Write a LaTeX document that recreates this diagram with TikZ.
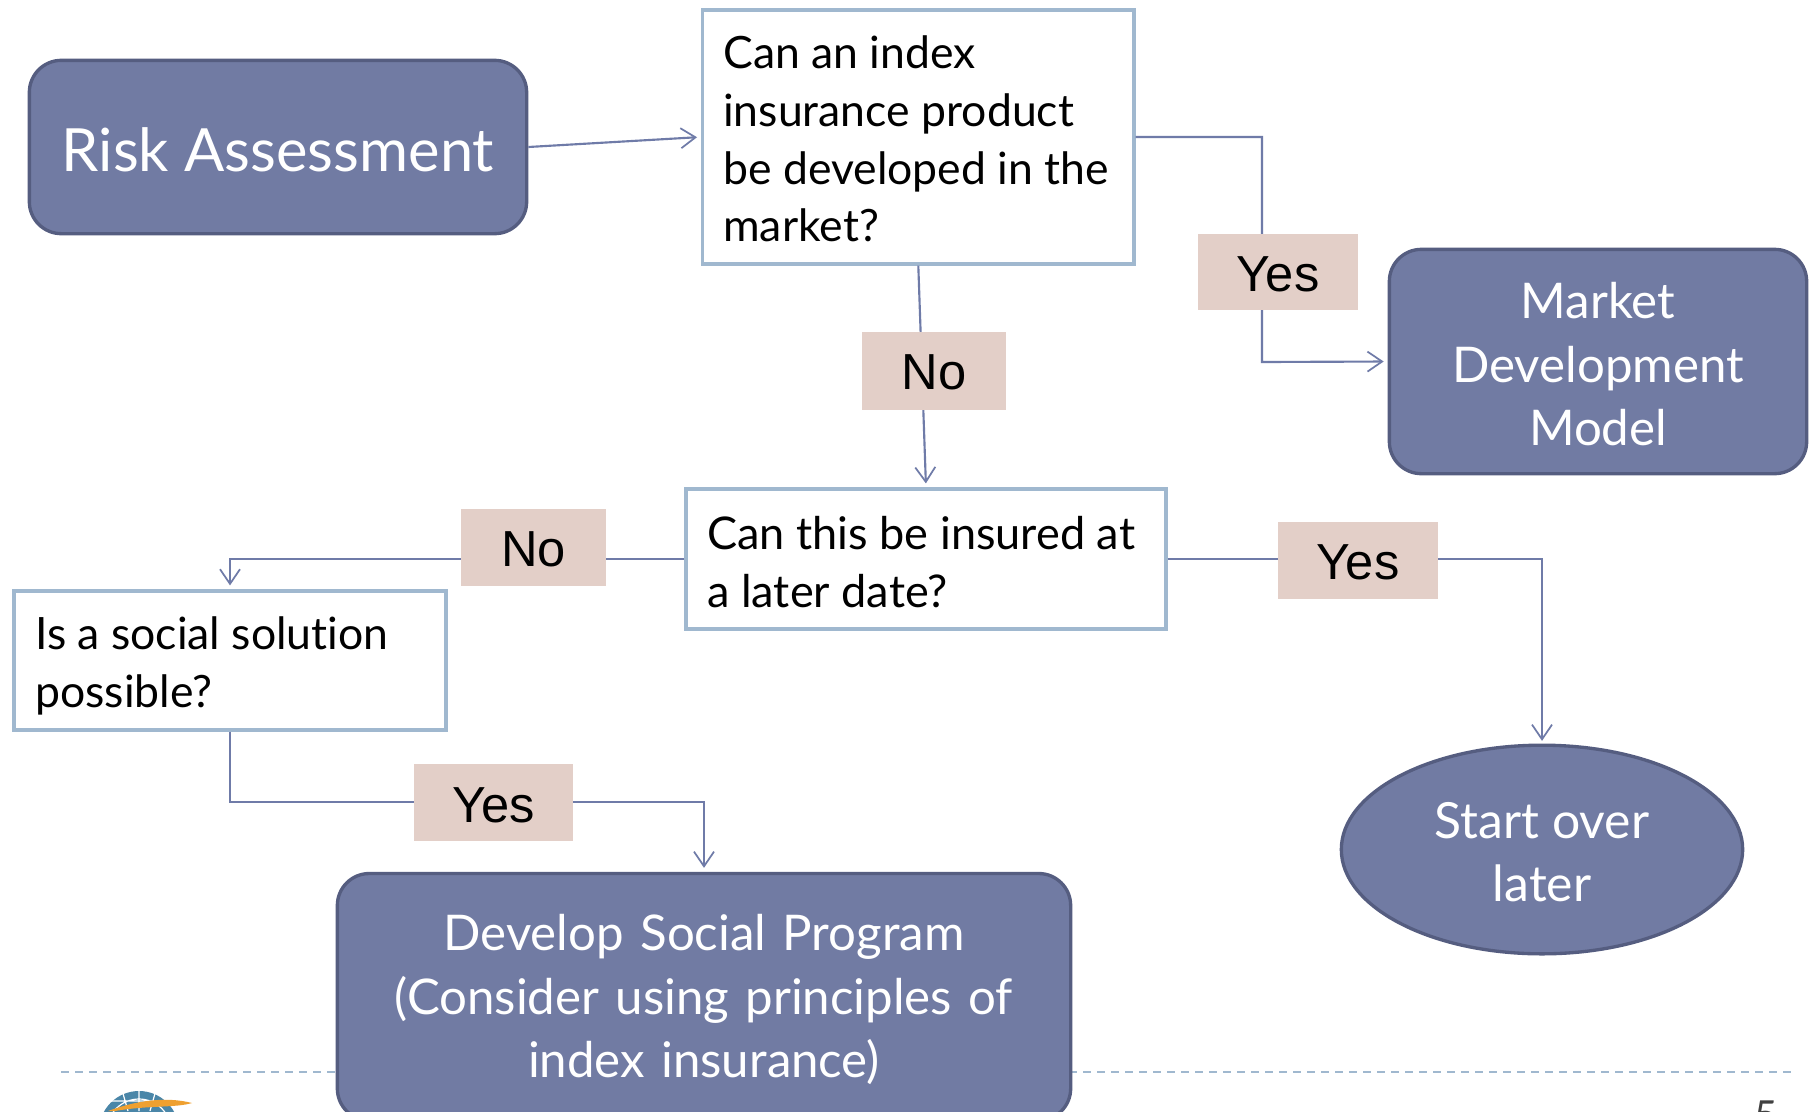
\documentclass[tikz,border=0pt]{standalone}
\usepackage{fontspec}
\setmainfont[Ligatures=NoCommon]{Lato}
\newfontfamily\arialfont{Liberation Sans}
\usetikzlibrary{shapes.geometric,arrows.meta,calc}
\definecolor{slate}{HTML}{717BA3}
\definecolor{slateedge}{HTML}{555D80}
\definecolor{paleblue}{HTML}{A0B8CF}
\definecolor{tagfill}{HTML}{E3CFC8}
\definecolor{arrowcol}{HTML}{6F7BA8}
\definecolor{globeblue}{HTML}{4A86A8}
\definecolor{feather}{HTML}{EFA030}
\newcommand{\lowerA}[1]{\raisebox{-2pt}[\height][\depth]{#1}}
\newcommand{\lowerB}[1]{\raisebox{-1pt}[\height][\depth]{#1}}
\tikzset{
  x=0.75pt,y=-0.75pt,
  solidbox/.style={draw=slateedge,line width=2.5pt,fill=slate,rounded corners=24pt,text=white,align=center,inner sep=0pt},
  qbox/.style={draw=paleblue,line width=2.4pt,fill=white,inner sep=0pt},
  qtext/.style={anchor=west,align=left,inner sep=0pt,font=\fontsize{33.4}{43.3}\selectfont,text=black},
  whitetext/.style={font=\fontsize{36.9}{47.8}\selectfont},
  tag/.style={fill=tagfill,font=\arialfont\fontsize{38}{42}\selectfont,text=black,inner sep=0pt},
  link/.style={draw=arrowcol,line width=1.6pt,-{Straight Barb[length=11pt,width=15pt,line width=1.3pt]},shorten >=3pt},
}
\begin{document}
\begin{tikzpicture}
\useasboundingbox (0,0) rectangle (1809,1111);
\clip (0,0) rectangle (1809,1111);
\fill[white] (0,0) rectangle (1809,1111);
% footer rule
\coordinate (ruleL) at (61,1072);
\coordinate (ruleR) at (1792,1072);
\draw[paleblue,line width=1.6pt,dash pattern=on 6pt off 4.5pt] (ruleL) -- (ruleR);
% logo fragment
\begin{scope}
\clip (100,1085) rectangle (200,1111);
\fill[globeblue] (139,1131) circle [radius=40];
\draw[white,line width=0.9pt] (139,1131) circle [radius=32] (122,1090) -- (128,1111) (139,1090) -- (139,1111) (156,1090) -- (150,1111) (100,1101) -- (180,1101);
\fill[feather] (108,1111) .. controls (135,1101) and (165,1096) .. (192,1103) .. controls (175,1108) and (150,1105) .. (115,1111) -- cycle;
\end{scope}
\node[inner sep=0pt,anchor=north west,font=\fontsize{30}{36}\selectfont,text={black!75}] (pagenum) at (1754,1101) {5};
% boxes
\node[solidbox,minimum width=373pt,minimum height=130pt] (risk) at (278,147) {};
\node[text=white,inner sep=0pt,font=\fontsize{44.7}{52}\selectfont,anchor=center] (risktext) at (278,149.5) {Risk Assessment};
\node[qbox,minimum width=323.5pt,minimum height=190.5pt] (q1) at (918.3,137) {};
\node[qtext] (q1text) at (723,139) {Can an index\\insurance product\\be developed in the\\market?};
\node[solidbox,whitetext,minimum width=313pt,minimum height=168.25pt,text width=300pt] (market) at (1598,361.5) {\lowerA{Market}\\\lowerA{Development}\\\lowerA{Model}};
\node[qbox,minimum width=360pt,minimum height=105pt] (q2) at (926,559) {};
\node[qtext,font=\fontsize{33.8}{43.3}\selectfont] (q2text) at (707,562) {Can this be insured at\\a later date?};
\node[qbox,minimum width=324pt,minimum height=104.25pt] (q3) at (230,660.5) {};
\node[qtext] (q3text) at (35,665.6) {Is a social solution\\possible?};
\node[solidbox,whitetext,minimum width=550pt,minimum height=185.25pt,text width=530pt] (social) at (704,997) {\lowerA{Develop Social Program}\\\lowerA{(Consider using principles of}\\\lowerA{index insurance)}};
\node[ellipse,draw=slateedge,line width=2.5pt,fill=slate,text=white,align=center,inner sep=0pt,font=\fontsize{37.4}{47.8}\selectfont,minimum width=301pt,minimum height=156.5pt] (start) at (1542,849.5) {\lowerA{Start over}\\\lowerA{later}};
% bends
\coordinate (bendA) at (1262,137);
\coordinate (bendB) at (1262,362);
\coordinate (bendC) at (704,802);
\coordinate (bendD) at (230,802);
% connectors
\draw[link] (risk.east) -- (q1.west);
\draw[link] (q1.east) -- (bendA) -- (bendB) -- (market.west);
\draw[link] (q1.south) -- (q2.north);
\draw[link] (q2.west) -| (q3.north);
\draw[link,shorten >=2pt] (q2.east) -| (start.north);
\draw[link] (q3.south) -- (bendD) -- (bendC) -- (social.north);
% labels
\node[tag,minimum width=120pt,minimum height=57pt] (yesA) at (1278,272) {\lowerA{Yes}};
\node[tag,minimum width=108pt,minimum height=58.5pt] (noA) at (934,371) {\lowerB{No}};
\node[tag,minimum width=108.75pt,minimum height=57.75pt] (noB) at (533.5,547.5) {\lowerB{No}};
\node[tag,minimum width=120pt,minimum height=57.75pt] (yesB) at (1358,560) {\lowerA{Yes}};
\node[tag,minimum width=119.25pt,minimum height=57.75pt] (yesC) at (493.5,802.5) {\lowerA{Yes}};
\end{tikzpicture}
\end{document}
